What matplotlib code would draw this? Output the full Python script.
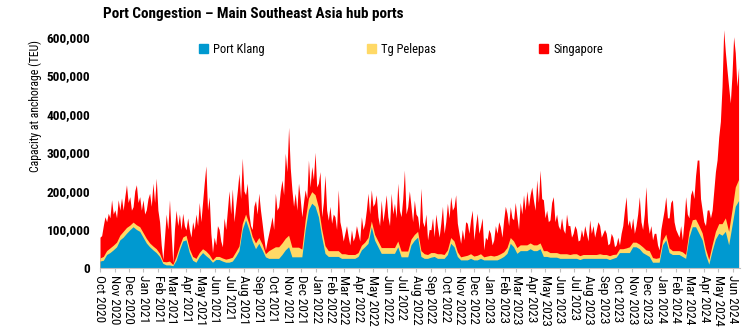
import numpy as np
import pandas as pd
import matplotlib
matplotlib.use("Agg")
import matplotlib.pyplot as plt
import matplotlib.dates as mdates
from matplotlib import font_manager
from matplotlib.patches import Patch
from matplotlib.ticker import FuncFormatter, MultipleLocator

# Anchorage capacity in thousand TEU, series starting 1 Oct 2020.
start_date = "2020-10-01"

# All three hubs combined, sampled twice a week
combined_k = [
    80, 84, 110, 133, 120, 142, 130, 177, 140, 151,
    130, 177, 150, 182, 150, 185, 216, 170, 185, 150,
    159, 200, 216, 170, 185, 150, 177, 140, 151, 180,
    194, 160, 220, 170, 233, 150, 120, 60, 22, 80,
    140, 100, 177, 90, 14, 100, 150, 110, 140, 100,
    142, 110, 99, 130, 100, 80, 120, 100, 140, 110,
    170, 120, 170, 220, 265, 150, 185, 90, 40, 80,
    60, 110, 100, 70, 55, 130, 100, 150, 200, 140,
    205, 120, 160, 200, 245, 180, 285, 200, 190, 220,
    140, 110, 100, 160, 175, 140, 194, 150, 116, 80,
    47, 70, 90, 110, 133, 100, 194, 150, 159, 200,
    228, 190, 298, 250, 365, 260, 203, 160, 194, 150,
    220, 180, 133, 170, 203, 180, 280, 210, 263, 230,
    300, 210, 220, 250, 133, 170, 241, 150, 124, 160,
    116, 140, 133, 100, 203, 120, 99, 70, 90, 110,
    82, 60, 99, 70, 82, 110, 90, 70, 133, 100,
    116, 150, 194, 140, 203, 160, 168, 190, 133, 110,
    176, 120, 151, 190, 133, 110, 194, 140, 168, 130,
    220, 150, 133, 180, 254, 140, 159, 200, 159, 120,
    176, 140, 133, 100, 207, 120, 107, 140, 73, 100,
    99, 130, 81, 140, 107, 80, 116, 160, 90, 120,
    168, 130, 185, 150, 159, 190, 116, 90, 64, 100,
    73, 120, 116, 90, 125, 150, 73, 110, 142, 90,
    107, 130, 47, 80, 73, 100, 90, 60, 73, 110,
    90, 120, 107, 80, 125, 160, 142, 110, 159, 130,
    125, 170, 133, 100, 170, 140, 190, 150, 200, 160,
    190, 210, 176, 150, 229, 170, 254, 180, 177, 130,
    150, 120, 125, 170, 185, 120, 140, 110, 100, 130,
    100, 90, 140, 110, 110, 80, 90, 110, 100, 70,
    73, 100, 80, 110, 90, 70, 125, 90, 110, 80,
    100, 120, 110, 80, 90, 100, 90, 60, 64, 90,
    80, 55, 60, 80, 60, 90, 110, 150, 185, 110,
    125, 100, 130, 90, 110, 140, 185, 120, 100, 140,
    211, 120, 90, 110, 73, 90, 90, 60, 47, 100,
    125, 150, 185, 130, 130, 170, 177, 120, 100, 90,
    80, 110, 73, 120, 185, 140, 130, 190, 203, 180,
    240, 280, 280, 180, 150, 120, 110, 150, 151, 130,
    150, 200, 250, 280, 340, 380, 471, 618, 560, 514,
    470, 428, 500, 600, 558, 471, 520,
]

# Port Klang and Tg Pelepas, sampled weekly
port_klang_k = [
    18, 20, 35, 40, 47, 55, 73, 80, 90, 99,
    107, 100, 95, 80, 65, 55, 47, 40, 30, 12,
    8, 8, 6, 20, 47, 70, 73, 40, 20, 15,
    30, 40, 32, 25, 15, 22, 22, 18, 15, 15,
    18, 30, 45, 100, 125, 100, 70, 50, 64, 47,
    29, 25, 25, 25, 25, 35, 47, 55, 29, 29,
    29, 29, 99, 151, 168, 160, 133, 81, 38, 30,
    30, 30, 30, 25, 25, 25, 25, 25, 30, 47,
    55, 64, 107, 72, 55, 38, 38, 38, 38, 38,
    55, 29, 29, 29, 60, 72, 80, 30, 25, 25,
    28, 30, 25, 25, 25, 35, 64, 55, 30, 21,
    21, 21, 25, 21, 21, 25, 21, 21, 21, 21,
    21, 25, 30, 38, 64, 55, 38, 45, 45, 45,
    50, 45, 45, 50, 30, 30, 28, 28, 28, 25,
    25, 25, 25, 25, 25, 22, 25, 25, 25, 25,
    25, 25, 25, 25, 22, 25, 28, 40, 40, 40,
    40, 55, 55, 50, 40, 35, 30, 15, 15, 15,
    60, 73, 40, 35, 35, 35, 30, 25, 80, 107,
    107, 90, 73, 35, 10, 45, 75, 90, 85, 95,
    60, 110, 160, 175,
]

tg_pelepas_k = [
    8, 10, 10, 12, 12, 12, 12, 15, 15, 12,
    12, 12, 12, 12, 12, 10, 10, 10, 8, 5,
    8, 10, 3, 10, 10, 10, 12, 10, 10, 10,
    10, 10, 12, 10, 6, 8, 8, 8, 8, 10,
    10, 12, 12, 15, 15, 15, 12, 15, 15, 15,
    8, 20, 25, 30, 30, 30, 30, 30, 25, 25,
    25, 20, 25, 30, 30, 30, 25, 20, 20, 15,
    15, 15, 15, 12, 12, 10, 10, 10, 10, 12,
    12, 15, 15, 15, 15, 15, 15, 15, 15, 15,
    15, 15, 15, 15, 15, 15, 15, 15, 12, 10,
    12, 10, 12, 12, 10, 12, 15, 15, 12, 8,
    10, 12, 12, 10, 12, 12, 8, 10, 12, 10,
    12, 12, 12, 15, 15, 15, 15, 15, 15, 15,
    15, 15, 15, 15, 15, 15, 12, 12, 12, 12,
    12, 12, 10, 12, 12, 10, 10, 10, 10, 10,
    10, 12, 10, 10, 10, 10, 8, 10, 10, 12,
    15, 12, 12, 12, 15, 12, 15, 12, 10, 12,
    12, 15, 12, 10, 10, 10, 12, 10, 15, 18,
    20, 20, 18, 15, 12, 15, 20, 25, 30, 35,
    35, 40, 50, 55,
]

series_names = ["Port Klang", "Tg Pelepas", "Singapore"]
series_colors = ["#0099D0", "#FFD966", "#FF0000"]


def pick_font():
    for name in ["Roboto Condensed", "Liberation Sans Narrow",
                 "Open Sans Condensed"]:
        try:
            font_manager.findfont(font_manager.FontProperties(family=name),
                                  fallback_to_default=False)
            return name, True
        except Exception:
            pass
    path = font_manager.findfont(font_manager.FontProperties(
        family="DejaVu Sans", stretch="condensed", weight="bold"))
    if "Condensed" in path:
        return "DejaVu Sans", True
    return "Roboto", False


font, narrow = pick_font()
plt.rcParams["font.family"] = [font, "DejaVu Sans"]
if narrow and font == "DejaVu Sans":
    plt.rcParams["font.stretch"] = "condensed"

t_half = pd.date_range(start_date, periods=len(combined_k), freq="84h")
t_week = pd.date_range(start_date, periods=len(port_klang_k), freq="7D")
combined = np.array(combined_k) * 1000.0
klang = np.array(port_klang_k) * 1000.0
klang_pelepas = klang + np.array(tg_pelepas_k) * 1000.0

fig = plt.figure(figsize=(7.52, 3.36), dpi=100)
ax = fig.add_axes([100 / 752, (336 - 268) / 336, 640 / 752, 241 / 336])

# Stacked layers: cumulative totals drawn back to front
ax.fill_between(t_half, 0, combined, color=series_colors[2], linewidth=0)
ax.fill_between(t_week, 0, klang_pelepas, color=series_colors[1], linewidth=0)
ax.fill_between(t_week, 0, klang, color=series_colors[0], linewidth=0)

ax.set_ylim(0, 625000)
ax.set_xlim(pd.Timestamp("2020-10-01"), pd.Timestamp("2024-06-16"))

ax.yaxis.set_major_locator(MultipleLocator(100000))
ax.yaxis.set_major_formatter(FuncFormatter(lambda v, p: f"{int(v):,}"))
ax.tick_params(axis="y", length=0, labelsize=9.5 if narrow else 9, pad=7)
for lab in ax.get_yticklabels():
    lab.set_fontweight("bold")

ax.xaxis.set_major_locator(mdates.MonthLocator())
ax.xaxis.set_major_formatter(mdates.DateFormatter("%b %Y"))
ax.tick_params(axis="x", length=3, color="#BFBFBF",
               labelsize=9.5 if narrow else 8.5, pad=2)
for lab in ax.get_xticklabels():
    lab.set_rotation(-90)
    lab.set_ha("center")
    lab.set_va("top")

for side in ["left", "right", "top"]:
    ax.spines[side].set_visible(False)
ax.spines["bottom"].set_color("#BFBFBF")
ax.set_facecolor("none")

fig.text(35 / 752, 1 - 106 / 336, "Capacity at anchorage (TEU)",
         rotation=90, ha="center", va="center", fontsize=8.5 if narrow else 8)
fig.text(103 / 752, 1 - 14 / 336,
         "Port Congestion \u2013 Main Southeast Asia hub ports",
         ha="left", va="center", fontsize=11 if narrow else 10,
         fontweight="bold")

handles = [Patch(color=c, label=n) for c, n in zip(series_colors, series_names)]
ax.legend(handles=handles, loc="upper center", bbox_to_anchor=(0.47, 0.98),
          ncol=3, frameon=False, fontsize=9 if narrow else 8.5,
          handlelength=0.75, handleheight=0.75, handletextpad=0.4,
          columnspacing=8.2)

fig.savefig("out.png", dpi=100)
